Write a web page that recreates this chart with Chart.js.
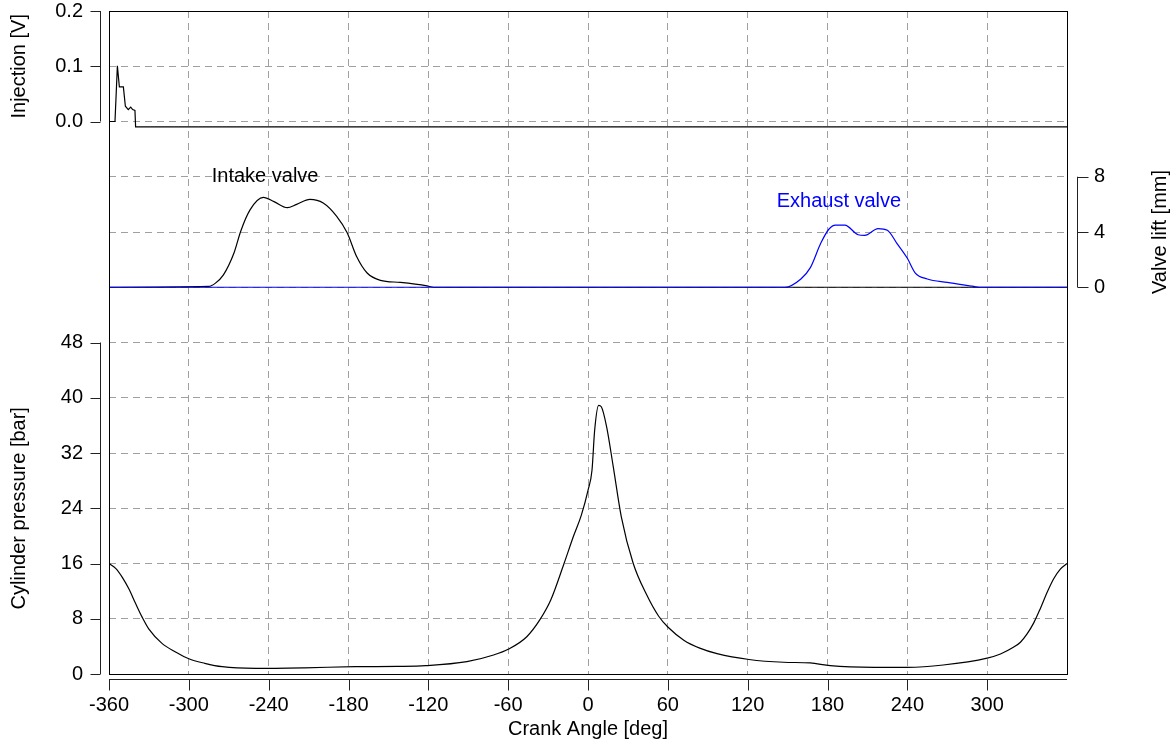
<!DOCTYPE html>
<html>
<head>
<meta charset="utf-8">
<script src="https://cdn.jsdelivr.net/npm/chart.js@4.4.1/dist/chart.umd.min.js"></script>
<style>
  html, body { margin: 0; padding: 0; background: #fff; }
  canvas { display: block; }
</style>
</head>
<body>
<canvas id="engineChart" width="1173" height="742"></canvas>
<script>
// --- data ---
const injAngle = [-360, -355.5, -353.7, -352.2, -349.2, -347.7, -345.5, -343.7, -342.2, -340.5, -340, 360];
const injVolt = [0, 0, 0.101, 0.0625, 0.0625, 0.0276, 0.0216, 0.026, 0.0216, 0.02, -0.0096, -0.0096];

const intakeAngle = [-360, -285, -280, -274, -266, -261, -254, -244, -236, -226, -219, -209, -199, -189, -181, -174, -166, -156, -141, -121, -116, 360];
const intakeLift = [0, 0.06, 0.3, 0.9, 2.5, 4.06, 5.6, 6.5, 6.2, 5.76, 6.0, 6.36, 6.1, 5.15, 3.94, 2.24, 1.03, 0.5, 0.35, 0.1, 0, 0];

const exhaustAngle = [-360, 148, 160, 167, 175, 181, 186, 193, 203, 208, 218, 225, 232, 240, 246, 255, 270, 290, 294, 360];
const exhaustLift = [0, 0, 0.6, 1.4, 3.2, 4.2, 4.5, 4.5, 3.8, 3.75, 4.25, 4.13, 3.2, 2.1, 1.03, 0.6, 0.35, 0.06, 0, 0];

const pressureAngle = [-360, -355, -350, -345, -340, -335, -330, -320, -310, -300,
  -288, -275, -250, -213, -175, -143, -122, -91, -71, -60,
  -46, -36, -28, -18, -11, -5, 0, 3, 5, 8,
  10, 14, 19, 25, 34, 44, 53, 60, 72, 84,
  97, 121, 147, 167, 182, 215, 240, 267, 300, 310,
  320, 325, 330, 335, 340, 345, 350, 355, 360];
const pressureBar = [16.0, 15.3, 14.0, 12.3, 10.2, 8.2, 6.5, 4.4, 3.2, 2.2,
  1.55, 1.06, 0.82, 0.9, 1.06, 1.1, 1.2, 1.78, 2.75, 3.57,
  5.4, 7.9, 10.7, 16.0, 19.9, 23.0, 26.6, 29.5, 35.3, 38.9,
  38.7, 35.8, 30.0, 22.8, 16.0, 11.5, 8.4, 6.8, 4.9, 3.75,
  2.95, 2.1, 1.7, 1.6, 1.2, 0.97, 0.97, 1.3, 2.3, 2.9,
  3.9, 4.6, 5.8, 7.4, 9.5, 11.8, 13.8, 15.2, 16.0];

const xTicks = [-360, -300, -240, -180, -120, -60, 0, 60, 120, 180, 240, 300];

const toXY = (xs, ys) => xs.map((x, i) => ({ x: x, y: ys[i] }));

const FONT = "'Liberation Sans', Arial, sans-serif";
Chart.defaults.font.family = FONT;
Chart.defaults.font.size = 20;
Chart.defaults.color = '#000';

const GRID = '#a0a0a0';

// fixed box sizes, no extra label padding from the layout
const fixSize = (w, h) => s => {
  if (w !== null) s.width = w;
  if (h !== null) s.height = h;
  s.paddingTop = 0; s.paddingBottom = 0; s.paddingLeft = 0; s.paddingRight = 0;
};

// axis lines, tick marks, side titles and curve labels
const decor = {
  id: 'decor',
  afterLayout(chart) {
    // injection labels share the column of the pressure axis
    const s = chart.scales.yI;
    s.left = 0;
    s.right = chart.chartArea.left;
    s.width = chart.chartArea.left;
  },
  afterDraw(chart) {
    const { ctx, chartArea: a, scales } = chart;
    const { x, yP, yI, yV } = scales;
    const r = v => Math.round(v) + 0.5;
    ctx.save();
    ctx.setLineDash([]);
    ctx.lineWidth = 1;
    ctx.strokeStyle = '#000';
    ctx.strokeRect(r(a.left), r(a.top), Math.round(a.right) - Math.round(a.left), Math.round(a.bottom) - Math.round(a.top));

    ctx.strokeStyle = '#222';
    const vAxis = (scale, lo, hi, x0, dir, len) => {
      ctx.beginPath();
      ctx.moveTo(r(x0), scale.getPixelForValue(lo));
      ctx.lineTo(r(x0), scale.getPixelForValue(hi));
      scale.ticks.filter(t => t.value >= lo - 1e-9 && t.value <= hi + 1e-9).forEach(t => {
        const py = r(scale.getPixelForValue(t.value));
        ctx.moveTo(r(x0), py);
        ctx.lineTo(r(x0) + dir * len, py);
      });
      ctx.stroke();
    };
    vAxis(yI, 0, 0.2, a.left - 9, -1, 10);
    vAxis(yP, 0, 48, a.left - 9, -1, 10);
    vAxis(yV, 0, 8, a.right + 10, 1, 11);

    const y0 = a.bottom + 5;
    ctx.beginPath();
    ctx.moveTo(a.left, r(y0));
    ctx.lineTo(a.right, r(y0));
    x.ticks.filter(t => t.value < 360).forEach(t => {
      const px = r(x.getPixelForValue(t.value));
      ctx.moveTo(px, r(y0));
      ctx.lineTo(px, r(y0) + 11);
    });
    ctx.stroke();

    ctx.font = '20px ' + FONT;
    ctx.textAlign = 'center';
    ctx.textBaseline = 'middle';
    ctx.fillStyle = '#000';
    const vTitle = (text, cx, cy) => {
      ctx.save();
      ctx.translate(cx, cy);
      ctx.rotate(-Math.PI / 2);
      ctx.fillText(text, 0, 0);
      ctx.restore();
    };
    vTitle('Injection [V]', 19, (yI.getPixelForValue(0) + yI.getPixelForValue(0.2)) / 2);
    vTitle('Cylinder pressure [bar]', 19, (yP.getPixelForValue(0) + yP.getPixelForValue(48)) / 2);
    vTitle('Valve lift [mm]', 1160, (yV.getPixelForValue(0) + yV.getPixelForValue(8)) / 2);

    ctx.textAlign = 'left';
    ctx.fillText('Intake valve', x.getPixelForValue(-282.8), yV.getPixelForValue(8.05));
    ctx.fillStyle = '#0000ff';
    ctx.fillText('Exhaust valve', x.getPixelForValue(141.8), yV.getPixelForValue(6.19));
    ctx.restore();
  }
};

const lineStyle = (color, smooth) => ({
  borderColor: color,
  borderWidth: 1.2,
  pointRadius: 0,
  fill: false,
  tension: smooth ? 0.4 : 0,
  cubicInterpolationMode: smooth ? 'monotone' : 'default'
});

new Chart(document.getElementById('engineChart'), {
  type: 'line',
  data: {
    datasets: [
      { label: 'Exhaust valve', data: toXY(exhaustAngle, exhaustLift), yAxisID: 'yV', ...lineStyle('#0000ff', true) },
      { label: 'Intake valve', data: toXY(intakeAngle, intakeLift), yAxisID: 'yV', ...lineStyle('#000', true) },
      { label: 'Cylinder pressure', data: toXY(pressureAngle, pressureBar), yAxisID: 'yP', ...lineStyle('#000', true) },
      { label: 'Injection', data: toXY(injAngle, injVolt), yAxisID: 'yI', ...lineStyle('#000', false) }
    ]
  },
  options: {
    responsive: false,
    animation: false,
    layout: { padding: { top: 11, left: 0, right: 0, bottom: 0 } },
    plugins: { legend: { display: false }, tooltip: { enabled: false } },
    scales: {
      x: {
        type: 'linear',
        position: 'bottom',
        min: -360,
        max: 360,
        afterBuildTicks: s => { s.ticks = xTicks.concat([360]).map(v => ({ value: v })); },
        ticks: { padding: 19, maxRotation: 0, autoSkip: false, callback: v => (v < 360 ? v : '') },
        grid: { color: GRID, lineWidth: 1, drawTicks: false },
        border: { display: false, dash: [7, 5] },
        title: { display: true, text: 'Crank Angle [deg]', padding: { top: 0, bottom: 1 } },
        afterFit: fixSize(null, 68)
      },
      yP: {
        type: 'linear',
        position: 'left',
        weight: 0,
        min: 0,
        max: 96,
        ticks: { stepSize: 8, padding: 26, callback: v => (v <= 48 ? v : '') },
        grid: { color: GRID, lineWidth: 1, drawTicks: false },
        border: { display: false, dash: [7, 5] },
        afterFit: fixSize(109, null)
      },
      yI: {
        type: 'linear',
        position: 'left',
        weight: 2,
        min: -1.0,
        max: 0.2,
        ticks: {
          stepSize: 0.1, padding: 26, autoSkip: false,
          callback: v => (v > -0.05 ? (Math.round(v * 10) / 10 + 0).toFixed(1) : '')
        },
        grid: { drawOnChartArea: false, drawTicks: false },
        border: { display: false },
        afterFit: fixSize(0, null)
      },
      yV: {
        type: 'linear',
        position: 'right',
        min: -28,
        max: 20,
        ticks: { stepSize: 4, padding: 27, callback: v => (v >= 0 && v <= 8 ? v : '') },
        grid: { drawOnChartArea: false, drawTicks: false },
        border: { display: false },
        afterFit: fixSize(106, null)
      }
    }
  },
  plugins: [decor]
});
</script>
</body>
</html>
